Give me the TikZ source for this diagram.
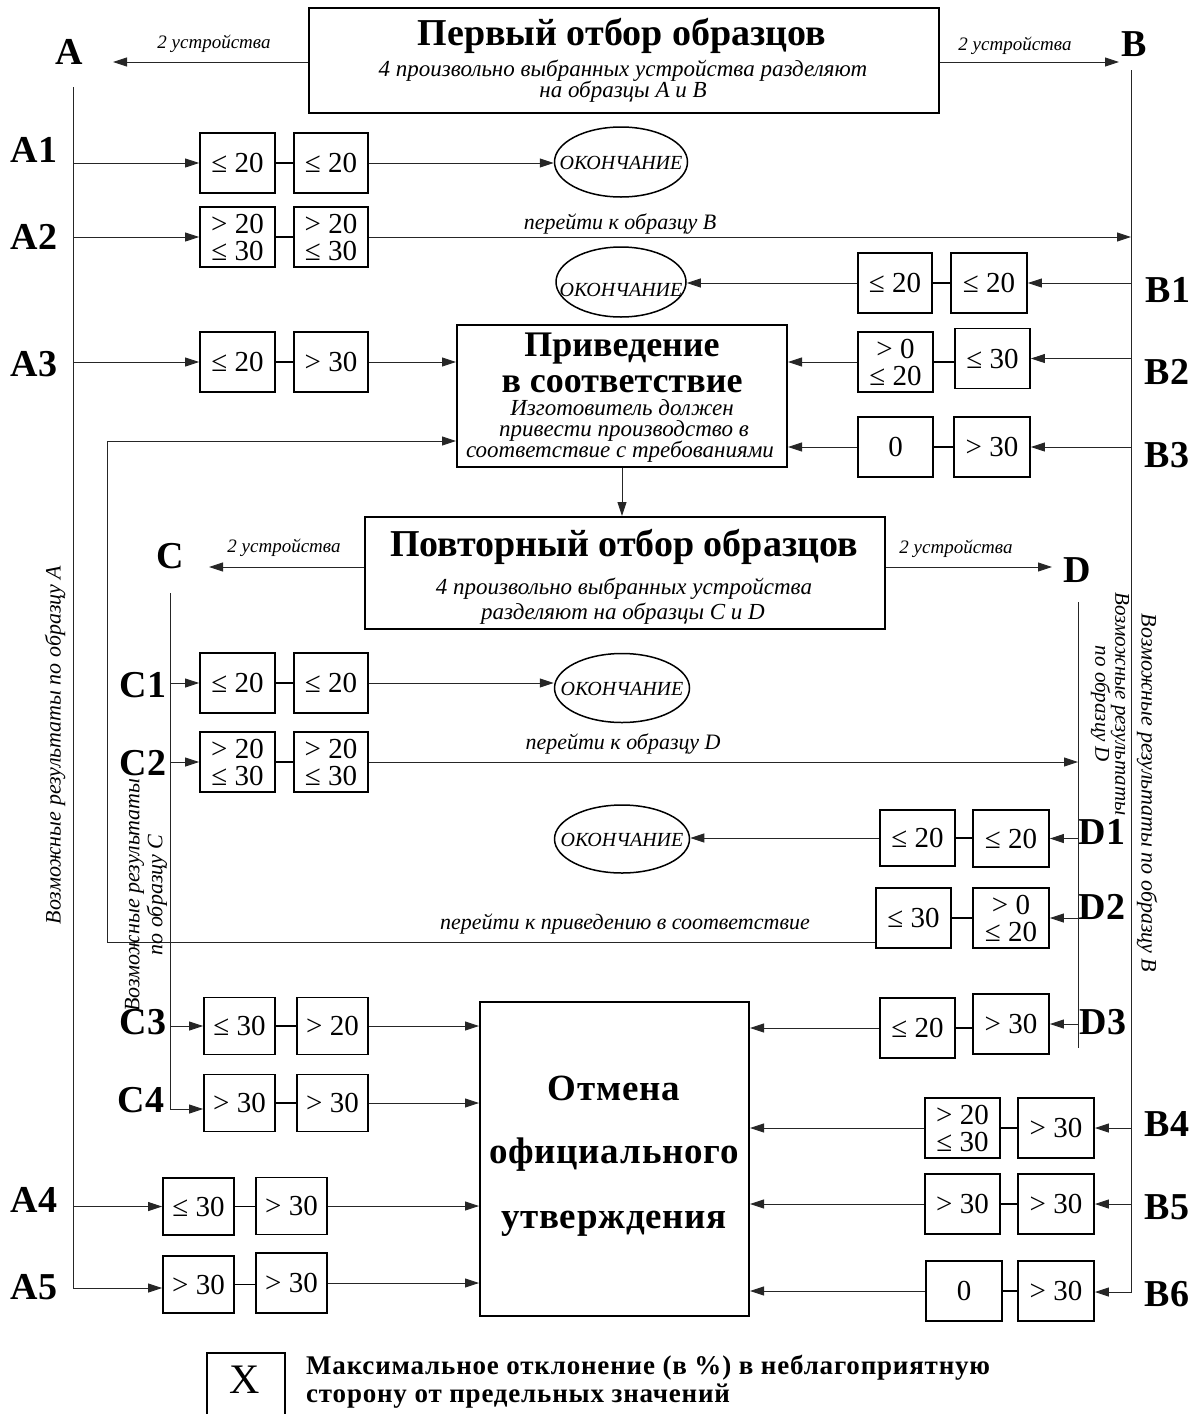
\documentclass[tikz,border=0pt]{standalone}
\usepackage{fontspec}
\setmainfont{Liberation Serif}
\usetikzlibrary{arrows.meta,shapes.geometric}
\begin{document}
\begin{tikzpicture}[x=1pt,y=-1pt,
  bx/.style={draw, line width=1.8pt, inner sep=0pt, minimum width=75pt, minimum height=60pt, align=center, font=\fontsize{29pt}{27pt}\selectfont},
  sbx/.style={bx, minimum width=71pt, minimum height=57pt},
  bigbox/.style={draw, line width=2pt, inner sep=0pt},
  ln/.style={line width=0.9pt, black!85},
  arr/.style={ln, -{Triangle[length=14pt,width=9pt]}},
  lk/.style={line width=1.6pt},
  lbl/.style={font=\fontsize{38pt}{38pt}\selectfont\bfseries, inner sep=0pt},
  endell/.style={draw, ellipse, line width=1.5pt, inner sep=0pt},
  endtxt/.style={font=\fontsize{20pt}{20pt}\selectfont\itshape, inner sep=0pt},
  dev/.style={font=\fontsize{19pt}{19pt}\selectfont\itshape, inner sep=0pt, anchor=base},
  go/.style={font=\fontsize{22pt}{22pt}\selectfont\itshape, inner sep=0pt, anchor=base},
  ttl/.style={font=\fontsize{38pt}{30pt}\selectfont\bfseries, inner sep=0pt, anchor=base},
  sub/.style={font=\fontsize{23pt}{21pt}\selectfont\itshape, inner sep=0pt, anchor=base},
  otl/.style={font=\fontsize{37pt}{37pt}\selectfont\bfseries\addfontfeature{LetterSpace=2}, inner sep=0pt, anchor=base},
  rot/.style={font=\fontsize{22pt}{23pt}\selectfont\itshape, inner sep=0pt, align=center},
  leg/.style={font=\fontsize{27pt}{27pt}\selectfont\bfseries\addfontfeature{LetterSpace=3}, inner sep=0pt, anchor=base west}
]
\useasboundingbox (0,0) rectangle (1199,1414);

% ---------- main boxes ----------
\node[bigbox, minimum width=630pt, minimum height=105pt] (first) at (624,60.5) {};
\node[ttl] (firstT) at (622,45) {Первый отбор образцов};
\node[sub] (firstS1) at (623,76) {4 произвольно выбранных устройства разделяют};
\node[sub] (firstS2) at (623,97) {на образцы A и B};

\node[bigbox, minimum width=330pt, minimum height=142pt] (prived) at (622,396) {};
\node[ttl, font=\fontsize{36pt}{30pt}\selectfont\bfseries] (privT1) at (622,356) {Приведение};
\node[ttl, font=\fontsize{36pt}{30pt}\selectfont\bfseries] (privT2) at (622,392) {в соответствие};
\node[sub] (privS1) at (622,415) {Изготовитель должен};
\node[sub] (privS2) at (624,436) {привести производство в};
\node[sub] (privS3) at (620,457) {соответствие с требованиями};

\node[bigbox, minimum width=520pt, minimum height=112pt] (second) at (625,573) {};
\node[ttl] (secT) at (624,556) {Повторный отбор образцов};
\node[sub] (secS1) at (624,594) {4 произвольно выбранных устройства};
\node[sub] (secS2) at (623,619) {разделяют на образцы C и D};

\node[bigbox, minimum width=269pt, minimum height=314pt] (otm) at (614.5,1159) {};
\node[otl] (otmT1) at (614,1100) {Отмена};
\node[otl] (otmT2) at (614,1163) {официального};
\node[otl] (otmT3) at (614,1228) {утверждения};

% ---------- ends ----------
\node[endell, minimum width=133pt, minimum height=70pt] (end1) at (621,162) {};
\node[endtxt] (end1t) at (621,163) {ОКОНЧАНИЕ};
\node[endell, minimum width=130pt, minimum height=70pt] (end2) at (621,282) {};
\node[endtxt] (end2t) at (621,290) {ОКОНЧАНИЕ};
\node[endell, minimum width=135pt, minimum height=69pt] (end3) at (622,688) {};
\node[endtxt] (end3t) at (622,689) {ОКОНЧАНИЕ};
\node[endell, minimum width=135pt, minimum height=68pt] (end4) at (622,839) {};
\node[endtxt] (end4t) at (622,840) {ОКОНЧАНИЕ};

% ---------- letters ----------
\node[lbl] (lA) at (69,52) {A};
\node[lbl] (lB) at (1134,44) {B};
\node[lbl] (lC) at (170,556) {C};
\node[lbl] (lD) at (1077,570) {D};
\node[lbl] (lA1) at (34,150) {A1};
\node[lbl] (lA2) at (34,237) {A2};
\node[lbl] (lA3) at (34,364) {A3};
\node[lbl] (lA4) at (34,1200) {A4};
\node[lbl] (lA5) at (34,1287) {A5};
\node[lbl] (lB1) at (1168,290) {B1};
\node[lbl] (lB2) at (1167,372) {B2};
\node[lbl] (lB3) at (1167,455) {B3};
\node[lbl] (lB4) at (1167,1124) {B4};
\node[lbl] (lB5) at (1167,1207) {B5};
\node[lbl] (lB6) at (1167,1294) {B6};
\node[lbl] (lC1) at (143,685) {C1};
\node[lbl] (lC2) at (143,763) {C2};
\node[lbl] (lC3) at (143,1022) {C3};
\node[lbl] (lC4) at (141,1100) {C4};
\node[lbl] (lD1) at (1102,832) {D1};
\node[lbl] (lD2) at (1102,907) {D2};
\node[lbl] (lD3) at (1103,1022) {D3};

% ---------- value boxes ----------
\node[bx] (a1l) at (237.5,163) {≤ 20};
\node[bx, minimum width=74pt] (a1r) at (331,163) {≤ 20};
\node[bx] (a2l) at (237.5,237) {> 20\\≤ 30};
\node[bx, minimum width=74pt] (a2r) at (331,237) {> 20\\≤ 30};
\node[bx] (a3l) at (237.5,362) {≤ 20};
\node[bx, minimum width=74pt] (a3r) at (331,362) {> 30};
\node[bx, minimum width=74pt] (b1l) at (895,283) {≤ 20};
\node[bx, minimum width=76pt] (b1r) at (989,283) {≤ 20};
\node[bx] (b2l) at (895.5,362) {> 0\\≤ 20};
\node[bx] (b2r) at (992.5,358.5) {≤ 30};
\node[bx] (b3l) at (895.5,447) {0};
\node[bx, minimum width=76pt] (b3r) at (992,447) {> 30};
\node[bx] (c1l) at (237.5,683) {≤ 20};
\node[bx, minimum width=74pt] (c1r) at (331,683) {≤ 20};
\node[bx] (c2l) at (237.5,762) {> 20\\≤ 30};
\node[bx, minimum width=74pt] (c2r) at (331,762) {> 20\\≤ 30};
\node[bx, minimum height=56pt] (d1l) at (917.5,838) {≤ 20};
\node[bx, minimum width=76pt, minimum height=57pt] (d1r) at (1011,838.5) {≤ 20};
\node[bx] (d2l) at (913.5,918) {≤ 30};
\node[bx, minimum width=76pt] (d2r) at (1011,918) {> 0\\≤ 20};
\node[bx] (d3l) at (917.5,1028) {≤ 20};
\node[bx, minimum width=76pt] (d3r) at (1011,1024) {> 30};
\node[sbx] (c3l) at (239.5,1026) {≤ 30};
\node[sbx] (c3r) at (332.5,1026) {> 20};
\node[sbx] (c4l) at (239.5,1103) {> 30};
\node[sbx] (c4r) at (332.5,1103) {> 30};
\node[sbx] (a4l) at (198.5,1206.5) {≤ 30};
\node[sbx] (a4r) at (291.5,1206) {> 30};
\node[sbx] (a5l) at (198.5,1284.5) {> 30};
\node[sbx, minimum height=60pt] (a5r) at (291.5,1283) {> 30};
\node[bx] (b4l) at (962.5,1128) {> 20\\≤ 30};
\node[bx, minimum width=76pt] (b4r) at (1056,1128) {> 30};
\node[bx] (b5l) at (962.5,1204) {> 30};
\node[bx, minimum width=76pt] (b5r) at (1056,1204) {> 30};
\node[bx, minimum width=76pt] (b6l) at (964,1291) {0};
\node[bx, minimum width=76pt] (b6r) at (1056,1291) {> 30};

% ---------- trunk coordinates ----------
\coordinate (atop) at (73,87);   \coordinate (abot) at (73,1288);
\coordinate (btop) at (1131,70); \coordinate (bbot) at (1131,1292);
\coordinate (ctop) at (170,593); \coordinate (cbot) at (170,1109);
\coordinate (dtop) at (1078,602); \coordinate (dbot) at (1078,1048);
\coordinate (atip) at (113,62);  \coordinate (btip) at (1119,62);
\coordinate (ctip) at (209,567); \coordinate (dtip) at (1052,567);
\coordinate (loopx) at (107,942); \coordinate (loopy) at (107,441);

% ---------- trunks ----------
\draw[arr] (atop) -- (abot) -- (abot -| a5l.west);
\draw[arr] (btop) -- (bbot) -- (bbot -| b6r.east);
\draw[arr] (ctop) -- (cbot) -- (cbot -| c4l.west);
\draw[ln] (dtop) -- (dbot);

% ---------- sampling arrows ----------
\draw[arr] (first.west |- atip) -- (atip);
\draw[arr] (first.east |- btip) -- (btip);
\draw[arr] (second.west |- ctip) -- (ctip);
\draw[arr] (second.east |- dtip) -- (dtip);
\node[dev] (devA) at (214,48) {2 устройства};
\node[dev] (devB) at (1015,50) {2 устройства};
\node[dev] (devC) at (284,552) {2 устройства};
\node[dev] (devD) at (956,553) {2 устройства};
\draw[arr] (prived.south) -- (prived.south |- second.north);

% ---------- branches into first boxes ----------
\foreach \n in {a1l,a2l,a3l,a4l}{\draw[arr] (atop |- \n.west) -- (\n.west);}
\foreach \n in {c1l,c2l,c3l}{\draw[arr] (ctop |- \n.west) -- (\n.west);}
\foreach \n in {b1r,b2r,b3r,b4r,b5r}{\draw[arr] (btop |- \n.east) -- (\n.east);}
\foreach \n in {d1r,d2r,d3r}{\draw[arr] (dtop |- \n.east) -- (\n.east);}

% ---------- links between box pairs ----------
\foreach \l/\r in {a1l/a1r,a2l/a2r,a3l/a3r,c1l/c1r,c2l/c2r,c3l/c3r,c4l/c4r,a4l/a4r,a5l/a5r,b1l/b1r,b2l/b2r,b3l/b3r,d1l/d1r,d2l/d2r,d3l/d3r,b4l/b4r,b5l/b5r,b6l/b6r}
  {\draw[lk] (\l.east) -- (\l.east -| \r.west);}

% ---------- outcomes ----------
\draw[arr] (a1r.east) -- (a1r.east -| end1.west);
\draw[arr] (a2r.east) -- (a2r.east -| btop);
\node[go] (goB) at (620,229) {перейти к образцу B};
\draw[arr] (b1l.west) -- (b1l.west -| end2.east);
\draw[arr] (a3r.east) -- (a3r.east -| prived.west);
\draw[arr] (b2l.west) -- (b2l.west -| prived.east);
\draw[arr] (b3l.west) -- (b3l.west -| prived.east);
\draw[arr] ([yshift=-24pt]d2l.west) -- (loopx) -- (loopy) -- (loopy -| prived.west);
\node[go] (goP) at (625,929) {перейти к приведению в соответствие};
\draw[arr] (c1r.east) -- (c1r.east -| end3.west);
\draw[arr] (c2r.east) -- (c2r.east -| dtop);
\node[go] (goD) at (623,749) {перейти к образцу D};
\draw[arr] (d1l.west) -- (d1l.west -| end4.east);
\foreach \n in {c3r,c4r,a4r,a5r}{\draw[arr] (\n.east) -- (\n.east -| otm.west);}
\foreach \n in {d3l,b4l,b5l,b6l}{\draw[arr] (\n.west) -- (\n.west -| otm.east);}

% ---------- rotated captions ----------
\node[rot, rotate=90] (rA) at (55,745) {Возможные результаты по образцу A};
\node[rot, rotate=-90] (rB) at (1147,793) {Возможные результаты по образцу B};
\node[rot, rotate=90] (rC) at (146,895) {Возможные результаты\\по образцу C};
\node[rot, rotate=-90, font=\fontsize{21pt}{20pt}\selectfont\itshape] (rD) at (1110,704) {Возможные результаты\\по образцу D};

% ---------- legend ----------
\draw[line width=1.5pt] (207,1414) -- (207,1353) -- (285,1353) -- (285,1414);
\node[inner sep=0pt, font=\fontsize{42pt}{42pt}\selectfont] (legX) at (245,1380) {X};
\node[leg] (leg1) at (306,1374) {Максимальное отклонение (в \%) в неблагоприятную};
\node[leg] (leg2) at (306,1402) {сторону от предельных значений};
\end{tikzpicture}
\end{document}
